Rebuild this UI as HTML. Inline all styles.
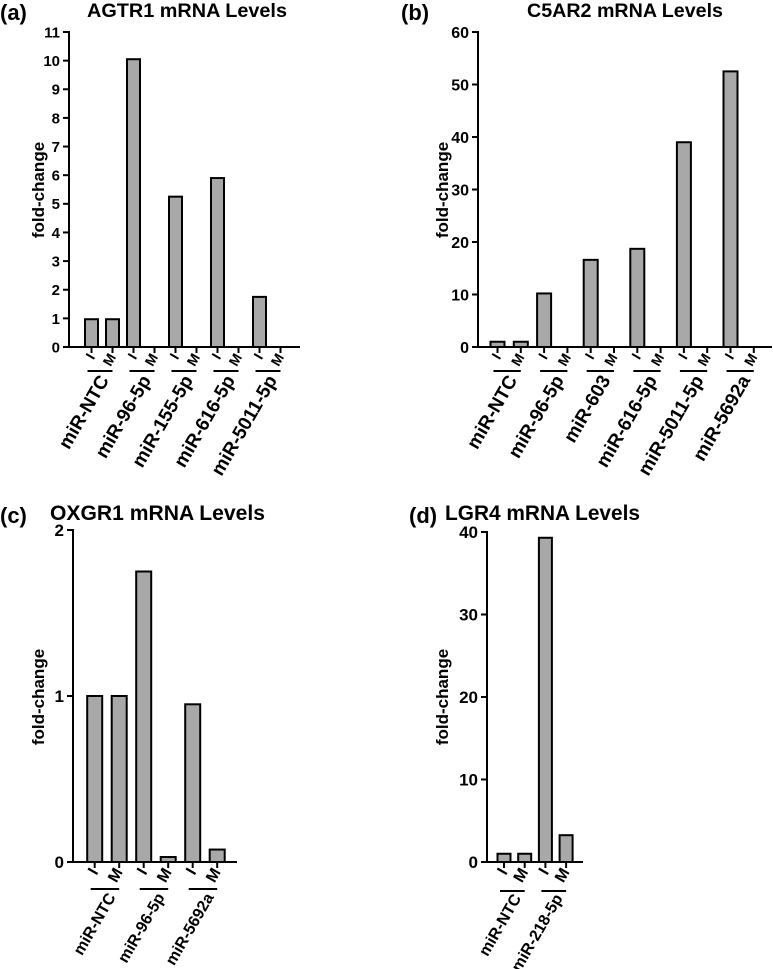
<!DOCTYPE html>
<html><head><meta charset="utf-8"><style>
html,body{margin:0;padding:0;background:#fff;}
svg{display:block;font-family:"Liberation Sans",Arial,sans-serif;font-weight:bold;}
</style></head><body>
<svg id="fig" width="773" height="969" viewBox="0 0 773 969" xmlns="http://www.w3.org/2000/svg"></svg>
<script>
// Panel (a) AGTR1
const aGroups = ["miR-NTC","miR-96-5p","miR-155-5p","miR-616-5p","miR-5011-5p"];
const aValues = [0.97,0.97,10.05,0,5.25,0,5.9,0,1.75,0];
const aTicks = [0,1,2,3,4,5,6,7,8,9,10,11];
// Panel (b) C5AR2
const bGroups = ["miR-NTC","miR-96-5p","miR-603","miR-616-5p","miR-5011-5p","miR-5692a"];
const bValues = [1,1,10.2,0,16.6,0,18.7,0,39,0,52.5,0];
const bTicks = [0,10,20,30,40,50,60];
// Panel (c) OXGR1
const cGroups = ["miR-NTC","miR-96-5p","miR-5692a"];
const cValues = [1,1,1.75,0.03,0.95,0.075];
const cTicks = [0,1,2];
// Panel (d) LGR4
const dGroups = ["miR-NTC","miR-218-5p"];
const dValues = [1,1,39.3,3.25];
const dTicks = [0,10,20,30,40];
const subLabels = ["I","M"];

const NS="http://www.w3.org/2000/svg";
const svg=document.getElementById('fig');
function mk(tag,attrs,parent){const e=document.createElementNS(NS,tag);for(const k in attrs)e.setAttribute(k,attrs[k]);(parent||svg).appendChild(e);return e;}

function panel(cfg){
  const g=mk('g',{});
  
  
  const yScale=v=>cfg.y0-(v-cfg.ymin)/(cfg.ymax-cfg.ymin)*(cfg.y0-cfg.yTop);
  const xScale=i=>cfg.x0+i*cfg.step;
  const L=mk('text',{x:cfg.lx,y:cfg.ly,'font-size':cfg.lsize},g);L.textContent=cfg.letter;
  
  
  const T=mk('text',{x:cfg.tx,y:cfg.ty,'font-size':cfg.tsize,textLength:cfg.tlen,lengthAdjust:'spacingAndGlyphs'},g);T.textContent=cfg.title;
  
  
  const Y=mk('text',{x:0,y:0,'font-size':cfg.ytsize,'text-anchor':'middle',transform:`translate(${cfg.ytx},${cfg.yty}) rotate(-90)`},g);Y.textContent='fold-change';
  
  
  cfg.values.forEach((v,i)=>{
    if(v<=0)return;
    const cx=xScale(i),yt=yScale(v);
    const r=mk('rect',{x:cx-cfg.bw/2,y:yt,width:cfg.bw,height:cfg.y0-yt,fill:'#a8a8a8',stroke:'#000','stroke-width':2},g);
    
    
  });
  const ya=mk('line',{x1:cfg.ax,y1:cfg.yTop-1,x2:cfg.ax,y2:cfg.y0+1,stroke:'#000','stroke-width':2},g);
  
  
  const xa=mk('line',{x1:cfg.ax-6,y1:cfg.y0,x2:cfg.xEnd,y2:cfg.y0,stroke:'#000','stroke-width':2},g);
  
  
  cfg.ticks.forEach(t=>{
    const y=yScale(t);
    mk('line',{x1:cfg.ax-6,y1:y,x2:cfg.ax,y2:y,stroke:'#000','stroke-width':2},g);
    const tl=mk('text',{x:cfg.ax-9,y:y+cfg.ysize*0.36,'font-size':cfg.ysize,'text-anchor':'end'},g);tl.textContent=t;
    
    
  });
  cfg.values.forEach((v,i)=>{
    const cx=xScale(i);
    mk('line',{x1:cx,y1:cfg.y0,x2:cx,y2:cfg.y0+6,stroke:'#000','stroke-width':2},g);
    const s=mk('text',{x:0,y:0,'font-size':cfg.ssize,'text-anchor':'end',transform:`translate(${cx+4},${cfg.y0+cfg.sOff}) rotate(-60)`},g);
    s.textContent=subLabels[i%2];
    
    
  });
  cfg.groups.forEach((name,k)=>{
    const xi=xScale(2*k),xm=xScale(2*k+1);
    const ul=mk('line',{x1:xi-4,y1:cfg.y0+cfg.lineOff,x2:xm,y2:cfg.y0+cfg.lineOff,stroke:'#000','stroke-width':2},g);
    
    
    const gl=mk('text',{x:0,y:0,'font-size':cfg.gsize,'text-anchor':'end',transform:`translate(${xm-3},${cfg.y0+cfg.lineOff+cfg.gOff}) rotate(-60)`},g);
    gl.textContent=name;
    
    
  });
}
panel({id:'agtr1',values:aValues,groups:aGroups,ticks:aTicks,ymin:0,ymax:11,y0:347,yTop:32,ax:69,x0:91.5,step:21,bw:13,xEnd:300,
  letter:'(a)',lx:0,ly:20,lsize:22,title:'AGTR1 mRNA Levels',tx:87,ty:17,tsize:19,tlen:200,
  ytx:44,yty:190,ytsize:17,ysize:15,ssize:14,sOff:10,lineOff:24,gsize:19,gOff:9});
panel({id:'c5ar2',values:bValues,groups:bGroups,ticks:bTicks,ymin:0,ymax:60,y0:347,yTop:32,ax:478,x0:497.5,step:23.3,bw:14,xEnd:772,
  letter:'(b)',lx:401,ly:20,lsize:22,title:'C5AR2 mRNA Levels',tx:527,ty:17,tsize:19,tlen:196,
  ytx:448,yty:190,ytsize:17,ysize:16,ssize:14,sOff:10,lineOff:24,gsize:19,gOff:9});
panel({id:'oxgr1',values:cValues,groups:cGroups,ticks:cTicks,ymin:0,ymax:2,y0:862,yTop:530,ax:73,x0:94.7,step:24.5,bw:15,xEnd:237,
  letter:'(c)',lx:0,ly:523,lsize:22,title:'OXGR1 mRNA Levels',tx:50,ty:520,tsize:21,tlen:215,
  ytx:44,yty:697,ytsize:17,ysize:17,ssize:16,sOff:10,lineOff:27,gsize:16,gOff:8});
panel({id:'lgr4',values:dValues,groups:dGroups,ticks:dTicks,ymin:0,ymax:40,y0:862,yTop:532,ax:487,x0:504,step:20.7,bw:13,xEnd:583,
  letter:'(d)',lx:409,ly:523,lsize:22,title:'LGR4 mRNA Levels',tx:445,ty:520,tsize:21,tlen:195,
  ytx:448,yty:697,ytsize:17,ysize:17,ssize:16,sOff:10,lineOff:29,gsize:16,gOff:7});
</script>
</body></html>
